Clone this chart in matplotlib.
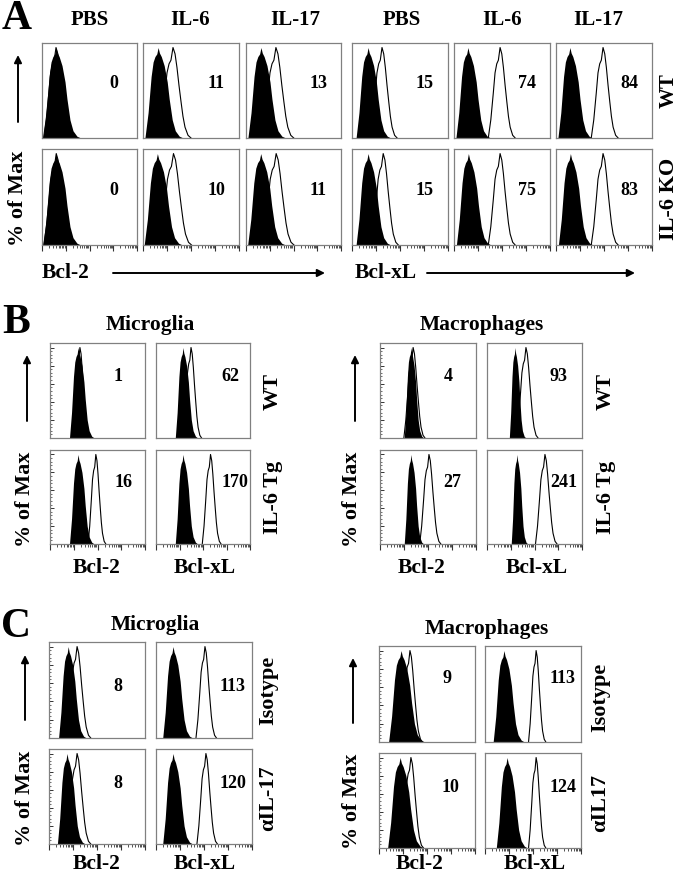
import numpy as np
import matplotlib
matplotlib.use("Agg")
import matplotlib.pyplot as plt
from matplotlib.patches import FancyArrowPatch

# ---------------- data ----------------
# histogram shape profiles (offset in widths, height as fraction of max)
FILLED_OFFSETS = [-1.0, -0.76, -0.53, -0.38, -0.24, -0.1, 0.0, 0.1, 0.24, 0.46, 0.69, 0.84, 1.07, 1.3, 1.6, 1.9]
FILLED_HEIGHTS = [0.0, 0.28, 0.68, 0.84, 0.90, 0.93, 1.0, 0.94, 0.90, 0.80, 0.62, 0.43, 0.20, 0.08, 0.02, 0.0]
OPEN_OFFSETS = [-1.17, -0.92, -0.67, -0.5, -0.33, -0.17, 0.0, 0.17, 0.33, 0.5, 0.67, 0.83, 1.0, 1.25, 1.5]
OPEN_HEIGHTS = [0.0, 0.20, 0.50, 0.72, 0.82, 0.86, 1.0, 0.93, 0.78, 0.58, 0.40, 0.24, 0.12, 0.03, 0.0]

# Panel A (x in log10 decades)
A_COLUMNS = ["PBS", "IL-6", "IL-17", "PBS", "IL-6", "IL-17"]
A_ROWS = ["WT", "IL-6 KO"]
A_MARKERS = ["Bcl-2", "Bcl-xL"]
A_MFI = [[0, 11, 13, 15, 74, 84],
         [0, 10, 11, 15, 75, 83]]
A_FILLED_PEAK = [[0.59, 0.63, 0.63, 0.67, 0.58, 0.58],
                 [0.59, 0.60, 0.62, 0.67, 0.60, 0.60]]
A_OPEN_PEAK = [[0.59, 1.25, 1.26, 1.25, 1.92, 1.96],
               [0.60, 1.27, 1.27, 1.30, 1.92, 1.96]]
A_FILLED_WIDTH = [0.55, 0.55, 0.55, 0.50, 0.50, 0.50]
A_OPEN_WIDTH = [0.45, 0.50, 0.50, 0.42, 0.42, 0.42]

# Panel B
B_GROUPS = ["Microglia", "Macrophages"]
B_ROWS = ["WT", "IL-6 Tg"]
BC_COLUMNS = ["Bcl-2", "Bcl-xL"]
B_MIC_MFI = [[1, 62], [16, 170]]
B_MIC_FILLED = [[1.18, 1.15], [1.18, 1.15]]
B_MIC_OPEN = [[1.26, 1.49], [1.93, 2.32]]
B_MAC_MFI = [[4, 93], [27, 241]]
B_MAC_FILLED = [[1.29, 1.18], [1.29, 1.26]]
B_MAC_OPEN = [[1.38, 1.64], [2.04, 2.44]]
B_FILLED_WIDTH = [[0.36, 0.33], [0.28, 0.24]]   # per group, per column
B_OPEN_WIDTH = [[0.28, 0.30], [0.33, 0.34]]

# Panel C
C_ROWS_MIC = ["Isotype", "\u03b1IL-17"]
C_ROWS_MAC = ["Isotype", "\u03b1IL17"]
C_MIC_MFI = [[8, 113], [8, 120]]
C_MIC_FILLED = [[0.80, 0.71], [0.75, 0.71]]
C_MIC_OPEN = [[1.17, 2.04], [1.17, 2.08]]
C_MAC_MFI = [[9, 113], [10, 124]]
C_MAC_FILLED = [[0.92, 0.79], [0.88, 0.92]]
C_MAC_OPEN = [[1.29, 2.13], [1.33, 2.13]]
C_FILLED_WIDTH = [[0.40, 0.43], [0.52, 0.45]]
C_OPEN_WIDTH = [[0.38, 0.32], [0.35, 0.27]]

# ---------------- drawing ----------------
W, H = 680, 875
fig = plt.figure(figsize=(W / 100, H / 100), dpi=100)
FONT = "Liberation Serif"
SPINE = "#808080"


def add_box(x0, y0, x1, y1):
    return fig.add_axes([x0 / W, 1 - y1 / H, (x1 - x0) / W, (y1 - y0) / H])


def ftext(x, y, s, size, rot=0, ha="center", va="center"):
    fig.text(x / W, 1 - y / H, s, fontsize=size, fontweight="bold", family=FONT,
             rotation=rot, ha=ha, va=va)


def arrow(x0, y0, x1, y1):
    fig.add_artist(FancyArrowPatch((x0 / W, 1 - y0 / H), (x1 / W, 1 - y1 / H),
                                   transform=fig.transFigure, arrowstyle="-|>",
                                   mutation_scale=11, lw=1.4, color="black",
                                   shrinkA=0, shrinkB=0))


def style_axes(ax, bottom_ticks, left_ticks):
    ax.set_xlim(0, 4)
    ax.set_ylim(0, 105)
    for sp in ax.spines.values():
        sp.set_color(SPINE)
        sp.set_linewidth(0.9)
    if bottom_ticks:
        ax.set_xticks([0, 1, 2, 3, 4])
        minor = [d + np.log10(k) for d in range(4) for k in range(2, 10)]
        ax.set_xticks(minor, minor=True)
        ax.tick_params(axis="x", which="major", direction="out", length=4, width=0.8,
                       color="#333333", labelbottom=False)
        ax.tick_params(axis="x", which="minor", direction="out", length=2, width=0.6,
                       color="#333333")
    else:
        ax.set_xticks([])
        ax.set_xticks([], minor=True)
    if left_ticks:
        ax.set_yticks([0, 20, 40, 60, 80, 100])
        ax.set_yticks([v for v in range(0, 101, 4)], minor=True)
        ax.tick_params(axis="y", which="major", direction="in", length=3, width=0.7,
                       color="#333333", labelleft=False)
        ax.tick_params(axis="y", which="minor", direction="in", length=1.5, width=0.5,
                       color="#333333")
    else:
        ax.set_yticks([])
        ax.set_yticks([], minor=True)


def draw_hist(ax, fpk, fw, opk, ow):
    fx = fpk + np.array(FILLED_OFFSETS) * fw
    fy = np.array(FILLED_HEIGHTS) * 100
    ax.fill_between(fx, fy, 0, color="black", lw=0)
    ox = opk + np.array(OPEN_OFFSETS) * ow
    oy = np.array(OPEN_HEIGHTS) * 100
    ax.plot(ox, oy, color="black", lw=0.8)


def mfi_text(ax, value, fx, fy):
    ax.text(fx, fy, str(value), transform=ax.transAxes, fontsize=13, fontweight="bold",
            family=FONT, ha="center", va="center")


# ----- Panel A -----
A_X = [(42, 137), (143, 239), (246, 341), (352, 448), (454, 550), (556, 652)]
A_Y = [(43, 138), (149, 245)]
A_HEAD_X = [90, 190, 295, 402, 502, 598]
ftext(17, 19, "A", 30)
for j, name in enumerate(A_COLUMNS):
    ftext(A_HEAD_X[j], 20, name, 15)
for i in range(2):
    for j in range(6):
        ax = add_box(A_X[j][0], A_Y[i][0], A_X[j][1], A_Y[i][1])
        draw_hist(ax, A_FILLED_PEAK[i][j], A_FILLED_WIDTH[j], A_OPEN_PEAK[i][j], A_OPEN_WIDTH[j])
        style_axes(ax, bottom_ticks=(i == 1), left_ticks=False)
        mfi_text(ax, A_MFI[i][j], 0.76, 0.57)
ftext(669, 91, A_ROWS[0], 15, rot=90)
ftext(669, 199, A_ROWS[1], 16, rot=90)
ftext(18, 198, "% of Max", 16, rot=90)
arrow(18, 122, 18, 55)
ftext(42, 273, A_MARKERS[0], 15.5, ha="left")
arrow(113, 273, 325, 273)
ftext(355, 273, A_MARKERS[1], 15.5, ha="left")
arrow(427, 273, 635, 273)

# ----- Panel B -----
ftext(16, 323, "B", 30)
B_GROUP_X = [[(50, 145), (156, 250)], [(380, 476), (487, 582)]]
B_Y = [(343, 438), (450, 544)]
B_MFI_POS = [[[(0.72, 0.65), (0.79, 0.65)], [(0.77, 0.65), (0.84, 0.65)]],
             [[(0.71, 0.65), (0.75, 0.65)], [(0.75, 0.65), (0.81, 0.65)]]]
b_mfi = [B_MIC_MFI, B_MAC_MFI]
b_fill = [B_MIC_FILLED, B_MAC_FILLED]
b_open = [B_MIC_OPEN, B_MAC_OPEN]
B_TITLE_X = [150, 482]
B_ROWLAB_X = [273, 606]
B_YLAB_X = [25, 352]
B_ARROW_X = [27, 355]
B_COLLAB_X = [[97, 205], [422, 537]]
for g in range(2):
    ftext(B_TITLE_X[g], 325, B_GROUPS[g], 15.5)
    for i in range(2):
        for j in range(2):
            x0, x1 = B_GROUP_X[g][j]
            ax = add_box(x0, B_Y[i][0], x1, B_Y[i][1])
            draw_hist(ax, b_fill[g][i][j], B_FILLED_WIDTH[g][j], b_open[g][i][j], B_OPEN_WIDTH[g][j])
            style_axes(ax, bottom_ticks=(i == 1), left_ticks=(j == 0))
            fx, fy = B_MFI_POS[g][i][j]
            mfi_text(ax, b_mfi[g][i][j], fx, fy)
    ftext(B_ROWLAB_X[g], 392, B_ROWS[0], 16, rot=90)
    ftext(B_ROWLAB_X[g], 497, B_ROWS[1], 16, rot=90)
    ftext(B_YLAB_X[g], 499, "% of Max", 16, rot=90)
    arrow(B_ARROW_X[g], 421, B_ARROW_X[g], 355)
    for j in range(2):
        ftext(B_COLLAB_X[g][j], 568, BC_COLUMNS[j], 15.5)

# ----- Panel C -----
ftext(16, 627, "C", 30)
C_GROUP_X = [[(49, 145), (156, 252)], [(379, 475), (485, 581)]]
C_GROUP_Y = [[(642, 738), (749, 844)], [(646, 742), (753, 848)]]
C_MFI_POS = [[[(0.72, 0.54), (0.80, 0.54)], [(0.72, 0.64), (0.80, 0.64)]],
             [[(0.71, 0.66), (0.81, 0.66)], [(0.74, 0.64), (0.81, 0.64)]]]
c_mfi = [C_MIC_MFI, C_MAC_MFI]
c_fill = [C_MIC_FILLED, C_MAC_FILLED]
c_open = [C_MIC_OPEN, C_MAC_OPEN]
c_rows = [C_ROWS_MIC, C_ROWS_MAC]
C_TITLE_XY = [(155, 625), (487, 629)]
C_ROWLAB_X = [268, 600]
C_ROWLAB_Y = [[690, 798], [697, 803]]
C_YLAB = [(25, 798), (352, 801)]
C_ARROW = [(25, 720, 655), (353, 723, 658)]
C_COLLAB_X = [[97, 205], [420, 535]]
for g in range(2):
    ftext(C_TITLE_XY[g][0], C_TITLE_XY[g][1], B_GROUPS[g], 15.5)
    for i in range(2):
        for j in range(2):
            x0, x1 = C_GROUP_X[g][j]
            y0, y1 = C_GROUP_Y[g][i]
            ax = add_box(x0, y0, x1, y1)
            draw_hist(ax, c_fill[g][i][j], C_FILLED_WIDTH[g][j], c_open[g][i][j], C_OPEN_WIDTH[g][j])
            style_axes(ax, bottom_ticks=(i == 1), left_ticks=(j == 0))
            fx, fy = C_MFI_POS[g][i][j]
            mfi_text(ax, c_mfi[g][i][j], fx, fy)
        ftext(C_ROWLAB_X[g], C_ROWLAB_Y[g][i], c_rows[g][i], 16, rot=90)
    ftext(C_YLAB[g][0], C_YLAB[g][1], "% of Max", 16, rot=90)
    ax_x, ay0, ay1 = C_ARROW[g]
    arrow(ax_x, ay0, ax_x, ay1)
    for j in range(2):
        ftext(C_COLLAB_X[g][j], 864, BC_COLUMNS[j], 15.5)

fig.savefig("out.png", dpi=100, facecolor="white")
